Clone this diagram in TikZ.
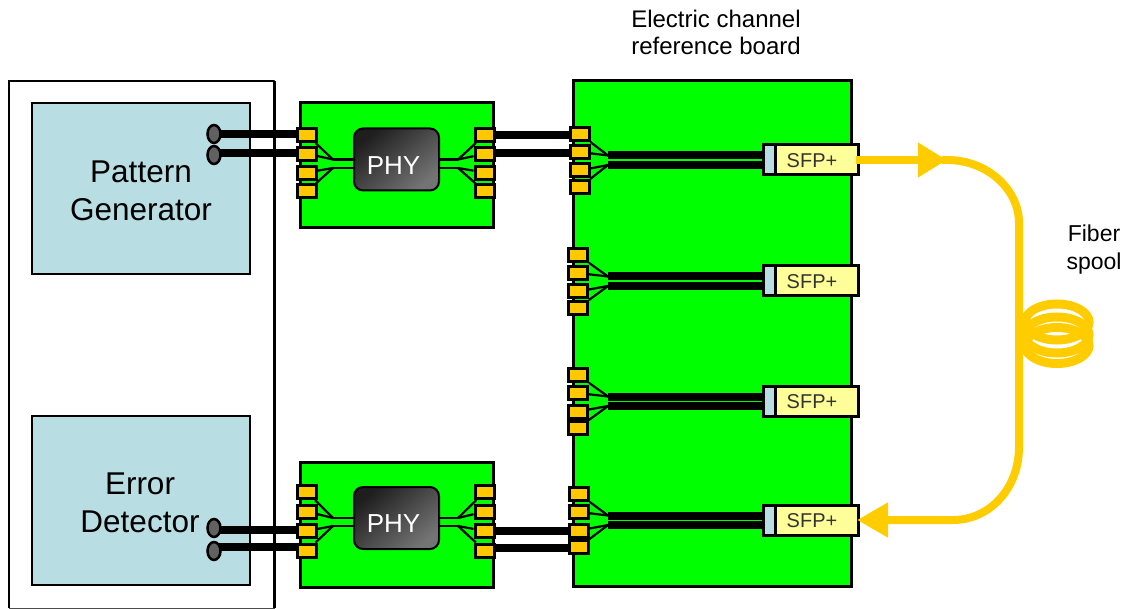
\documentclass[tikz,border=0pt]{standalone}
\usepackage{fontspec}
\setmainfont{Liberation Sans}
\usepackage{tikz}
\usetikzlibrary{calc}
\usetikzlibrary{shapes.geometric}
\usetikzlibrary{decorations.markings, arrows.meta}
\definecolor{boxblue}{HTML}{B8DEE3}
\definecolor{padorange}{HTML}{FFC800}
\definecolor{fiberyellow}{HTML}{FFCC00}
\definecolor{sfpyellow}{HTML}{FFFF99}
\definecolor{chipdark}{HTML}{1E1E1E}
\definecolor{chiplight}{HTML}{747474}
\pgfdeclarelayer{boards}
\pgfdeclarelayer{wires}
\pgfsetlayers{boards,wires,main}
\tikzset{
	board/.style={draw=black, fill=green, line width=3pt, inner sep=0pt},
	instrument/.style={draw=black, fill=boxblue, line width=2.5pt, inner sep=0pt},
	chip/.style={draw=black, line width=2pt, rounded corners=9pt, minimum width=85pt, minimum height=62pt,
			shading=axis, left color=chipdark, right color=chiplight, shading angle=40},
	chiptext/.style={text=white, inner sep=0pt, font=\fontsize{26}{26}\selectfont},
	pad/.style={draw=black, fill=padorange, line width=3pt, minimum width=19pt, minimum height=13pt, inner sep=0pt},
	dot/.style={ellipse, draw=black, fill=black!62, line width=2.5pt, minimum width=13pt, minimum height=18pt, inner sep=0pt},
	wire/.style={draw=black, line width=8pt},
	trace/.style={draw=black, line width=2.2pt},
	sfpleft/.style={draw=black, fill=boxblue, line width=3pt, minimum width=13pt, minimum height=30pt, inner sep=0pt},
	sfpright/.style={draw=black, fill=sfpyellow, line width=3pt, minimum width=83pt, minimum height=30pt, inner sep=0pt},
	sfptext/.style={text=black!80, inner sep=0pt, font=\fontsize{20}{20}\selectfont},
	fiber/.style={draw=fiberyellow, line width=8pt},
	bigtext/.style={align=center, font=\fontsize{31.5}{38}\selectfont},
	smalltext/.style={align=center, font=\fontsize{23}{28}\selectfont}
}
\begin{document}
\begin{tikzpicture}[x=1pt, y=-1pt]
	\useasboundingbox (0,0) rectangle (1134,609);

	\begin{pgfonlayer}{boards}
		% test bench
		\path [fill=white, draw=black!70, line width=1pt] (9,81) rectangle (274,608);
		\draw [black, line width=2.5pt] (9,608) -- (9,81) -- (274,81);
		\draw [black, line width=3pt] (274,81) -- (274,608);
		\node [instrument, minimum width=218pt, minimum height=171pt] (generator) at (141,188.5) {};
		\node [instrument, minimum width=218pt, minimum height=169pt] (detector) at (141,500.5) {};
		\node [bigtext] (generatortext) at (141,190.5) {Pattern\\Generator};
		\node [bigtext] (detectortext) at (140,502.5) {Error\\Detector};

		% boards
		\node [board, minimum width=193pt, minimum height=125pt] (phytop) at (396.5,165.5) {};
		\node [board, minimum width=193pt, minimum height=125pt] (phybot) at (396.5,524.5) {};
		\node [board, minimum width=278pt, minimum height=505pt] (refboard) at (712,333.5) {};
	\end{pgfonlayer}

	% PHY cards
	\foreach \c/\y/\a/\b/\d/\e in {top/159.5/159.5/168/135/18.8, bot/518/518/526/492/19.5}{
			\node [chip] (chip\c) at (396.5,\y) {};
			\node [chiptext] (text\c) at ([xshift=-3pt, yshift=-6pt]chip\c.center) {PHY};
			\coordinate (fanl\c u) at (333,\a);
			\coordinate (fanl\c d) at (333,\b);
			\coordinate (fanr\c u) at (458,\a);
			\coordinate (fanr\c d) at (458,\b);
			\foreach \i [evaluate=\i as \py using \d+(\i-1)*\e] in {1,2,3,4}{
					\node [pad] (l\c\i) at (307,\py) {};
					\node [pad] (r\c\i) at (484.5,\py) {};
				}
			\begin{pgfonlayer}{wires}
				\foreach \i/\s in {1/u,2/u,3/d,4/d}{
						\draw [trace] (l\c\i) -- (fanl\c\s);
						\draw [trace] (r\c\i) -- (fanr\c\s);
					}
				\foreach \s in {u,d}{
						\draw [trace] (fanl\c\s) -- (fanl\c\s -| chip\c.west);
						\draw [trace] (fanr\c\s) -- (fanr\c\s -| chip\c.east);
					}
			\end{pgfonlayer}
		}

	% reference board channels
	\foreach \n/\y/\px/\sy in {1/134/580/160, 2/255/578/281, 3/375/578/401, 4/494/579/520}{
			\foreach \i/\o in {1/0,2/18,3/36.5,4/53}{
					\node [pad] (ch\n\i) at (\px,\y+\o) {};
				}
			\node [sfpleft] (sfpa\n) at (769.5,\sy) {};
			\node [sfpright] (sfpb\n) at (817,\sy) {};
			\node [sfptext] (sfpt\n) at ([xshift=-5pt, yshift=-1pt]sfpb\n.center) {SFP+};
			\coordinate (fan\n u) at (608,\sy-4.5);
			\coordinate (fan\n d) at (608,\sy+5);
			\begin{pgfonlayer}{wires}
				\foreach \i/\s in {1/u,2/u,3/d,4/d}{
						\draw [trace] (ch\n\i) -- (fan\n\s);
					}
				\foreach \s in {u,d}{
						\draw [wire] (fan\n\s) -- (fan\n\s -| sfpa\n.west);
					}
			\end{pgfonlayer}
		}

	% signal pairs
	\node [dot] (gena) at (214,134) {};
	\node [dot] (genb) at (214,155) {};
	\node [dot] (deta) at (214,528) {};
	\node [dot] (detb) at (214,551) {};
	\begin{pgfonlayer}{wires}
		\draw [wire] (gena.center) -- (gena.center -| ltop1.center);
		\draw [wire] ([yshift=2pt]genb.center) -- ([yshift=2pt]genb.center -| ltop2.center);
		\draw [wire] ([yshift=-2pt]deta.center) -- ([yshift=-2pt]deta.center -| lbot3.center);
		\draw [wire] ([yshift=4pt]detb.center) -- ([yshift=4pt]detb.center -| lbot4.center);
		\draw [wire] (rtop1.center) -- (rtop1.center -| ch11.center);
		\draw [wire] ([yshift=1pt]rtop2.center) -- ([yshift=1pt]rtop2.center -| ch12.center);
		\draw [wire] (rbot3.center) -- (rbot3.center -| ch43.center);
		\draw [wire] ([yshift=3pt]rbot4.center) -- ([yshift=3pt]rbot4.center -| ch44.center);
	\end{pgfonlayer}

	% fiber loop
	\coordinate (loopa) at (947,160);
	\coordinate (loopb) at (1019,223);
	\coordinate (loopc) at (1019,447);
	\coordinate (loopd) at (953,520);
	\foreach \y in {322,335,345.5}{
			\draw [fiber, line width=9pt] (1057,\y) ellipse [x radius=32pt, y radius=18pt];
		}
	\draw [fiber, -{Triangle[length=29pt, width=33pt]}] ([xshift=-4pt]sfpb1.east) -- (loopa);
	\draw [fiber, -{Triangle[length=31pt, width=33pt]}] ([xshift=-5pt]loopa)
		-- (loopa)
		.. controls (988,160) and (1019,190) .. (loopb)
		-- (loopc)
		.. controls (1019,488) and (990,520) .. (loopd)
		-- ([xshift=-3pt]sfpb4.east);

	% labels
	\node [smalltext, font=\fontsize{24}{27}\selectfont] (reflabel) at (716,32.5) {Electric channel\\reference board};
	\node [smalltext] (spoollabel) at (1094,250) {Fiber\\spool};
\end{tikzpicture}
\end{document}
